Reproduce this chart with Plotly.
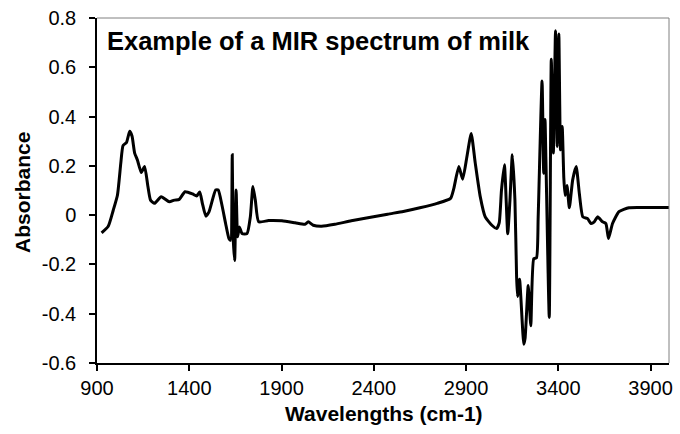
import plotly.graph_objects as go

# Wavenumber (cm-1) and absorbance values
wavenumbers = [925, 961, 988, 1011, 1029, 1041, 1060, 1077, 1090, 1104, 1119, 1140, 1158, 1176, 1190,
               1212, 1248, 1292, 1319, 1346, 1377, 1418, 1440, 1457, 1471, 1490, 1507, 1543, 1557,
               1579, 1597, 1615, 1624, 1633, 1638, 1646, 1654, 1662, 1672, 1686, 1713, 1731, 1745,
               1758, 1776, 1830, 1902, 1974, 2027, 2045, 2072, 2117, 2189, 2278, 2368, 2475, 2560,
               2650, 2744, 2816, 2834, 2861, 2882, 2905, 2928, 2950, 2977, 3004, 3040, 3066, 3080,
               3092, 3108, 3126, 3138, 3151, 3165, 3174, 3179, 3190, 3213, 3220, 3237, 3251, 3267,
               3282, 3291, 3312, 3321, 3328, 3333, 3351, 3362, 3373, 3385, 3394, 3403, 3412, 3421,
               3430, 3437, 3447, 3460, 3478, 3497, 3514, 3533, 3559, 3577, 3595, 3613, 3640, 3658,
               3672, 3694, 3729, 3783, 3855, 4000]
absorbance = [-0.072, -0.045, 0.02, 0.082, 0.211, 0.282, 0.295, 0.34, 0.32, 0.252, 0.224, 0.173, 0.197,
              0.116, 0.061, 0.048, 0.075, 0.054, 0.061, 0.064, 0.095, 0.086, 0.078, 0.094, 0.048,
              -0.004, 0.013, 0.102, 0.102, 0.034, -0.034, -0.095, -0.102, 0.245, -0.088, -0.184,
              0.102, -0.088, -0.048, -0.075, -0.075, -0.007, 0.116, 0.061, -0.027, -0.022, -0.023,
              -0.031, -0.037, -0.027, -0.041, -0.045, -0.037, -0.023, -0.011, 0.004, 0.015, 0.03,
              0.048, 0.068, 0.109, 0.197, 0.146, 0.238, 0.331, 0.211, 0.075, -0.007, -0.041, -0.054,
              -0.03, 0.1, 0.204, -0.075, 0.061, 0.245, 0.061, -0.25, -0.33, -0.26, -0.524, -0.50,
              -0.286, -0.449, -0.177, -0.173, -0.007, 0.544, 0.17, 0.388, 0.224, -0.415, 0.633, 0.252,
              0.748, 0.279, 0.735, 0.265, 0.36, 0.15, 0.08, 0.12, 0.03, 0.143, 0.197, 0.088, -0.007,
              -0.014, -0.034, -0.027, -0.007, -0.027, -0.034, -0.095, -0.034, 0.014, 0.03, 0.031, 0.031]

x_ticks = [900, 1400, 1900, 2400, 2900, 3400, 3900]
y_ticks = [0.8, 0.6, 0.4, 0.2, 0, -0.2, -0.4, -0.6]
y_tick_labels = ["0.8", "0.6", "0.4", "0.2", "0", "-0.2", "-0.4", "-0.6"]

title_text = "Example of a MIR spectrum of milk"
x_title = "Wavelengths (cm-1)"
y_title = "Absorbance"

FONT = "Arial, Liberation Sans, sans-serif"

fig = go.Figure()
fig.add_trace(go.Scatter(x=wavenumbers, y=absorbance, mode="lines",
                         line=dict(color="black", width=3, shape="spline", smoothing=0.5),
                         hoverinfo="skip", showlegend=False))

fig.update_layout(
    width=680, height=434,
    margin=dict(l=97, r=7, t=18, b=71),
    paper_bgcolor="white", plot_bgcolor="white",
    font=dict(family=FONT, color="black", size=20),
    xaxis=dict(range=[900, 4000], tickmode="array", tickvals=x_ticks,
               ticks="outside", ticklen=6, tickwidth=1.5, tickcolor="black",
               showline=True, linecolor="black", linewidth=1.5, showgrid=False, zeroline=False,
               tickfont=dict(size=20), ticklabelstandoff=0),
    yaxis=dict(range=[-0.6, 0.8], tickmode="array", tickvals=y_ticks, ticktext=y_tick_labels,
               ticks="outside", ticklen=6, tickwidth=1.5, tickcolor="black",
               showline=True, linecolor="black", linewidth=1.5, showgrid=False, zeroline=False,
               tickfont=dict(size=20), ticklabelstandoff=9),
)

# thin grey plot-area border on top and right
fig.add_shape(type="line", xref="paper", yref="paper", x0=0, x1=1, y0=1, y1=1,
              line=dict(color="#808080", width=1))
fig.add_shape(type="line", xref="paper", yref="paper", x0=1, x1=1, y0=0, y1=1,
              line=dict(color="#808080", width=1))

# chart title inside plot area
fig.add_annotation(text="<b>" + title_text + "</b>", xref="paper", yref="paper",
                   x=0.0139, y=0.932, xanchor="left", yanchor="middle", showarrow=False,
                   font=dict(size=25.5, family=FONT, color="black"))
# axis titles
fig.add_annotation(text="<b>" + x_title + "</b>", xref="paper", yref="paper",
                   x=0.5017, y=-0.1453, xanchor="center", yanchor="middle", showarrow=False,
                   font=dict(size=21, family=FONT, color="black"))
fig.add_annotation(text="<b>" + y_title + "</b>", xref="paper", yref="paper",
                   x=-0.1293, y=0.493, xanchor="center", yanchor="middle", showarrow=False,
                   textangle=-90, font=dict(size=21, family=FONT, color="black"))

# remove the default page margin so the figure sits at the window's top-left corner
fig.write_html("out.html", config={"displayModeBar": False},
               post_script="document.body.style.margin='0';document.body.style.overflow='hidden';")
